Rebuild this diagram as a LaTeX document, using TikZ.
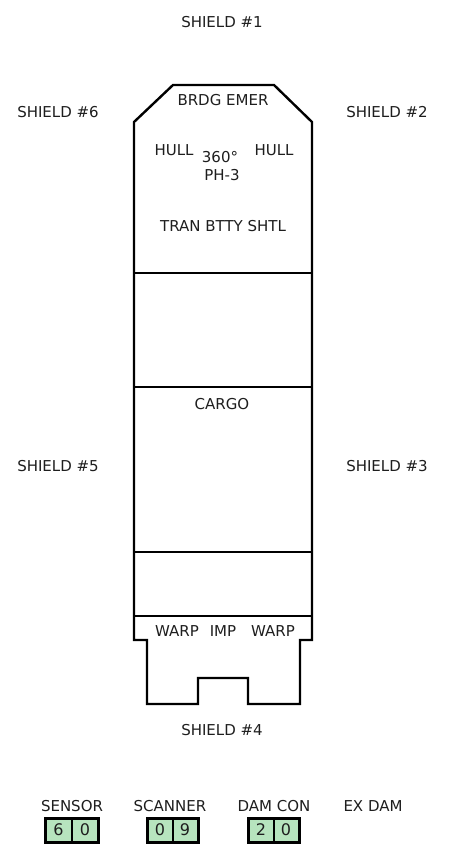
\documentclass[tikz,border=0pt]{standalone}
\usepackage{fontspec}
\setmainfont{DejaVu Sans}
\definecolor{ink}{RGB}{30,30,30}
\definecolor{lcd}{RGB}{183,228,190}
\tikzset{
  lbl/.style={font=\fontsize{15}{17}\selectfont, text=ink, inner sep=0pt, anchor=center},
  digit/.style={font=\fontsize{16}{18}\selectfont, text=ink, inner sep=0pt, anchor=center},
  hull/.style={draw=black, line width=2.4pt, line join=miter},
  divline/.style={draw=black, line width=2.4pt},
  cellbox/.style={draw=black, line width=3pt, fill=lcd},
  celldiv/.style={draw=black, line width=2pt},
}
\begin{document}
\begin{tikzpicture}[x=1pt,y=-1pt]
\useasboundingbox[fill=white] (0,0) rectangle (448,861);

% hull outline
\draw[hull] (173,85) -- (274,85) -- (312,122) -- (312,640) -- (300,640) -- (300,704)
  -- (248,704) -- (248,678) -- (198,678) -- (198,704) -- (147,704) -- (147,640)
  -- (134,640) -- (134,122) -- cycle;
\draw[divline] (134,273) -- (312,273);
\draw[divline] (134,387) -- (312,387);
\draw[divline] (134,552) -- (312,552);
\draw[divline] (134,616) -- (312,616);

% shields
\node[lbl] (s1) at (222,22) {SHIELD \#1};
\node[lbl] (s6) at (58,112) {SHIELD \#6};
\node[lbl] (s2) at (387,112) {SHIELD \#2};
\node[lbl] (s5) at (58,466) {SHIELD \#5};
\node[lbl] (s3) at (387,466) {SHIELD \#3};
\node[lbl] (s4) at (222,730) {SHIELD \#4};

% interior
\node[lbl] (brdg) at (223,100) {BRDG EMER};
\node[lbl] (hullL) at (174,150) {HULL};
\node[lbl] (ph) at (220,157) {360°};
\node[lbl] (hullR) at (274,150) {HULL};
\node[lbl] (ph3) at (222,175) {PH-3};
\node[lbl] (tran) at (223,226) {TRAN BTTY SHTL};
\node[lbl] (cargo) at (222,404) {CARGO};
\node[lbl] (warpL) at (177,631) {WARP};
\node[lbl] (imp) at (223,631) {IMP};
\node[lbl] (warpR) at (273,631) {WARP};

% status readouts
\node[lbl] (sensor) at (72,806) {SENSOR};
\node[lbl] (scanner) at (170,806) {SCANNER};
\node[lbl] (damcon) at (274,806) {DAM CON};
\node[lbl] (exdam) at (373,806) {EX DAM};

\draw[cellbox] (45,818) rectangle (98,842);
\draw[celldiv] (71.5,818) -- (71.5,842);
\node[digit] (d1) at (58.5,830) {6};
\node[digit] (d2) at (85,830) {0};

\draw[cellbox] (147,818) rectangle (198,842);
\draw[celldiv] (172.5,818) -- (172.5,842);
\node[digit] (d3) at (160,830) {0};
\node[digit] (d4) at (185,830) {9};

\draw[cellbox] (248,818) rectangle (299,842);
\draw[celldiv] (273.5,818) -- (273.5,842);
\node[digit] (d5) at (261,830) {2};
\node[digit] (d6) at (286,830) {0};
\end{tikzpicture}
\end{document}
